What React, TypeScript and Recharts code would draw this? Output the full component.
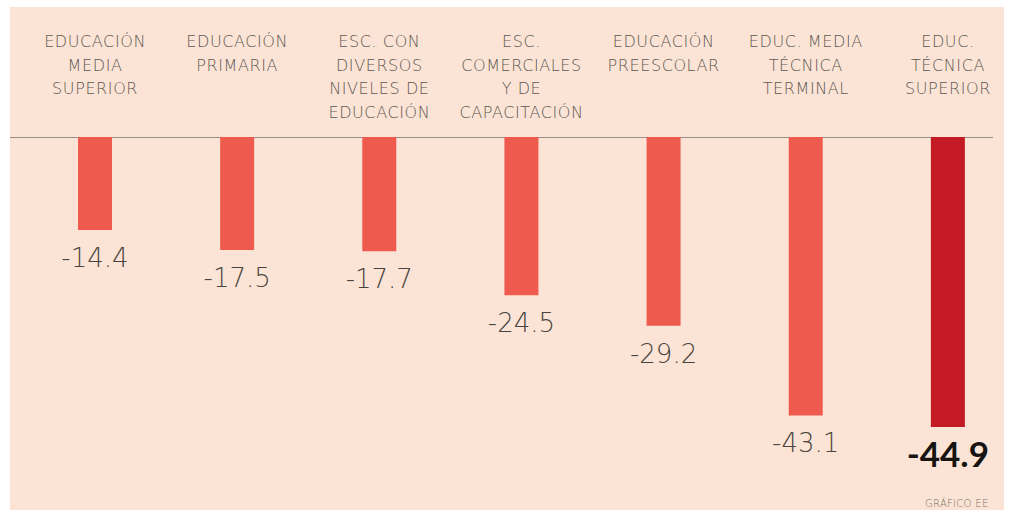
import React from "react"
import { BarChart, Bar, XAxis, YAxis, LabelList, Cell } from "recharts"

const categories = [
  "Educación media superior",
  "Educación primaria",
  "Esc. con diversos niveles de educación",
  "Esc. comerciales y de capacitación",
  "Educación preescolar",
  "Educ. media técnica terminal",
  "Educ. técnica superior",
]

const tickLines = [
  ["EDUCACIÓN", "MEDIA", "SUPERIOR"],
  ["EDUCACIÓN", "PRIMARIA"],
  ["ESC. CON", "DIVERSOS", "NIVELES DE", "EDUCACIÓN"],
  ["ESC.", "COMERCIALES", "Y DE", "CAPACITACIÓN"],
  ["EDUCACIÓN", "PREESCOLAR"],
  ["EDUC. MEDIA", "TÉCNICA", "TERMINAL"],
  ["EDUC.", "TÉCNICA", "SUPERIOR"],
]

const values = [-14.4, -17.5, -17.7, -24.5, -29.2, -43.1, -44.9]

const highlightIndex = 6

const chartData = categories.map((name, i) => ({ name, value: values[i] }))

const HeaderTick = (props: any) => {
  const { x, y, payload } = props
  const lines = tickLines[payload.index] || []
  return (
    <text
      x={x}
      y={y - 90}
      textAnchor="middle"
      fill="#5e5853"
      style={{ fontFamily: "DejaVu Sans", fontSize: 16, fontWeight: 200, letterSpacing: 0.6 }}
    >
      {lines.map((line, i) => (
        <tspan key={i} x={x} dy={i === 0 ? 0 : 23.5}>
          {line}
        </tspan>
      ))}
    </text>
  )
}

const ValueLabel = (props: any) => {
  const { x, y, width, height, value, index } = props
  const bottom = Math.max(y, y + height)
  const cx = x + width / 2
  const bold = index === highlightIndex
  return (
    <text
      x={cx}
      y={bottom + (bold ? 40 : 37)}
      textAnchor="middle"
      fill={bold ? "#161310" : "#4a4440"}
      style={
        bold
          ? { fontFamily: "Lato", fontSize: 35, fontWeight: 700 }
          : { fontFamily: "DejaVu Sans", fontSize: 26, fontWeight: 200 }
      }
    >
      {value.toFixed(1)}
    </text>
  )
}

export default function App() {
  return (
    <div
      style={{
        position: "absolute",
        left: 0,
        top: 0,
        width: 1014,
        height: 515,
        overflow: "hidden",
        background: "#ffffff",
      }}
    >
      <div
        style={{
          position: "absolute",
          left: 10,
          top: 7,
          width: 994,
          height: 503,
          background: "#fbe4d5",
        }}
      />
      <div
        style={{
          position: "absolute",
          left: 10,
          top: 137,
          width: 983,
          height: 1,
          background: "#9a8f86",
        }}
      />
      <div style={{ position: "absolute", left: 0, top: 0 }}>
        <BarChart
          width={1030}
          height={515}
          data={chartData}
          margin={{ top: 7, right: 11, left: 24, bottom: 55 }}
          barCategoryGap={0}
        >
          <XAxis
            dataKey="name"
            orientation="top"
            height={130}
            axisLine={false}
            tickLine={false}
            tickSize={0}
            tickMargin={0}
            interval={0}
            tick={<HeaderTick />}
          />
          <YAxis type="number" domain={[-50, 0]} hide />
          <Bar dataKey="value" barSize={34} isAnimationActive={false}>
            {chartData.map((_, i) => (
              <Cell key={i} fill={i === highlightIndex ? "#c41a26" : "#ef5a4f"} />
            ))}
            <LabelList dataKey="value" content={<ValueLabel />} />
          </Bar>
        </BarChart>
      </div>
      <div
        style={{
          position: "absolute",
          left: 925,
          top: 498,
          fontFamily: "DejaVu Sans",
          fontWeight: 200,
          fontSize: 10,
          letterSpacing: 0.3,
          color: "#7a736d",
        }}
      >
        GRÁFICO EE
      </div>
    </div>
  )
}
